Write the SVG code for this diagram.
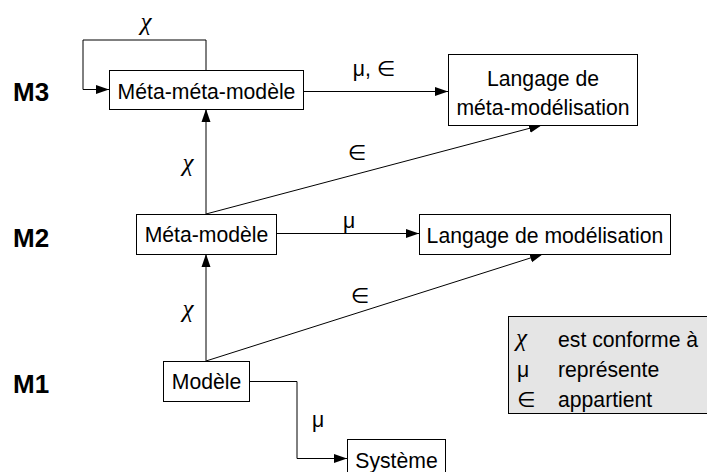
<svg xmlns="http://www.w3.org/2000/svg" width="707" height="472" viewBox="0 0 707 472">
<style>
text{font-family:"Liberation Sans","DejaVu Sans",sans-serif;font-size:21.2px;fill:#000}
.c{text-anchor:middle}
.lvl{font-weight:bold;font-size:26px}
.chi{font-family:"Liberation Serif","DejaVu Serif",serif;font-style:italic;font-size:25px}
.box{fill:#fff;stroke:#000;stroke-width:1}
.edge{fill:none;stroke:#000;stroke-width:1}
</style>
<defs>
<marker id="arr" markerUnits="userSpaceOnUse" markerWidth="14" markerHeight="10" refX="13" refY="5" orient="auto">
<path d="M0,0.5 L13,5 L0,9.5 Z" fill="#000"/>
</marker>
</defs>
<text class="lvl" x="13" y="101">M3</text>
<text class="lvl" x="13" y="247">M2</text>
<text class="lvl" x="13" y="393">M1</text>
<g id="connectors">
<path class="edge" d="M206,70 V40 H83 V89.5 H109" marker-end="url(#arr)"/>
<path class="edge" d="M303,91.5 H448" marker-end="url(#arr)"/>
<path class="edge" d="M206,214 V109" marker-end="url(#arr)"/>
<path class="edge" d="M206,214 L542,125" marker-end="url(#arr)"/>
<path class="edge" d="M276,233.5 H419" marker-end="url(#arr)"/>
<path class="edge" d="M206,361 V254" marker-end="url(#arr)"/>
<path class="edge" d="M206,361 L543,254" marker-end="url(#arr)"/>
<path class="edge" d="M249,381.5 H297 V458.5 H347" marker-end="url(#arr)"/>
<text class="c chi" x="146" y="30">χ</text>
<text class="c" x="374" y="76">μ, ∈</text>
<text class="c chi" x="188" y="171">χ</text>
<text class="c" x="357" y="160">∈</text>
<text class="c" x="349" y="228">μ</text>
<text class="c chi" x="188" y="317">χ</text>
<text class="c" x="360" y="303">∈</text>
<text class="c" x="318" y="427">μ</text>
</g>
<g id="metametamodele">
<rect class="box" x="109.5" y="70.5" width="194" height="39"/>
<text class="c" x="206.5" y="99">Méta-méta-modèle</text>
</g>
<g id="langage-meta">
<rect class="box" x="448.5" y="54.5" width="189" height="71"/>
<text class="c" x="543" y="86">Langage de</text>
<text class="c" x="543" y="115">méta-modélisation</text>
</g>
<g id="metamodele">
<rect class="box" x="136.5" y="214.5" width="140" height="40"/>
<text class="c" x="206.5" y="242">Méta-modèle</text>
</g>
<g id="langage">
<rect class="box" x="419.5" y="214.5" width="251" height="40"/>
<text class="c" x="545" y="243">Langage de modélisation</text>
</g>
<g id="modele">
<rect class="box" x="163.5" y="361.5" width="86" height="40"/>
<text class="c" x="206.5" y="389">Modèle</text>
</g>
<g id="systeme">
<rect class="box" x="347.5" y="439.5" width="98" height="45"/>
<text class="c" x="396.5" y="468">Système</text>
</g>
<g id="legende">
<rect x="508.5" y="316.5" width="210" height="97" fill="#e5e5e5" stroke="#000" stroke-width="1"/>
<text class="chi" x="516" y="346">χ</text>
<text x="558" y="347">est conforme à</text>
<text x="517" y="377">μ</text>
<text x="558" y="377">représente</text>
<text x="517" y="407">∈</text>
<text x="558" y="407">appartient</text>
</g>
</svg>
